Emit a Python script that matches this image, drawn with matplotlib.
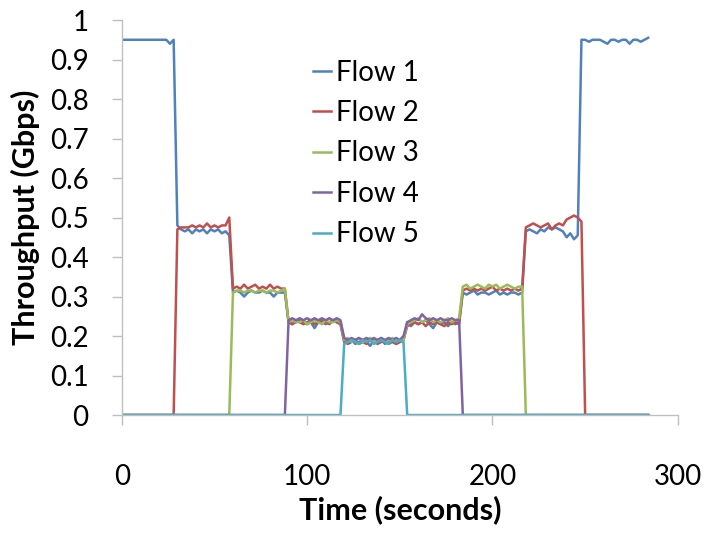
import numpy as np
import matplotlib
matplotlib.use('Agg')
from matplotlib import pyplot as plt

plt.rcParams['font.family'] = ['Lato', 'DejaVu Sans']

# time grid (seconds), one sample every 2 s
t = np.arange(0, 286, 2)

# throughput (Gbps) per phase
f1_p1 = [0.95, 0.95, 0.95, 0.95, 0.95, 0.95, 0.95, 0.95, 0.95, 0.95, 0.95, 0.95, 0.95, 0.94, 0.95]
f1_p2 = [0.48, 0.47, 0.465, 0.47, 0.46, 0.47, 0.465, 0.47, 0.46, 0.47, 0.465, 0.47, 0.46, 0.465, 0.455]
f1_p3 = [0.31, 0.315, 0.31, 0.30, 0.31, 0.315, 0.31, 0.31, 0.315, 0.31, 0.31, 0.30, 0.31, 0.31, 0.31]
f1_p4 = [0.235, 0.23, 0.235, 0.24, 0.235, 0.23, 0.235, 0.22, 0.235, 0.235, 0.23, 0.235, 0.24, 0.235, 0.23]
f1_p5 = [0.19, 0.185, 0.19, 0.18, 0.185, 0.19, 0.185, 0.175, 0.19, 0.185, 0.19, 0.18, 0.185, 0.19, 0.18, 0.185, 0.19]
f1_p6 = [0.235, 0.225, 0.235, 0.23, 0.235, 0.24, 0.23, 0.22, 0.235, 0.23, 0.235, 0.225, 0.235, 0.23, 0.235]
f1_p7 = [0.31, 0.305, 0.31, 0.315, 0.305, 0.31, 0.31, 0.305, 0.31, 0.315, 0.305, 0.31, 0.305, 0.31, 0.31, 0.305, 0.31]
f1_p8 = [0.465, 0.47, 0.465, 0.46, 0.47, 0.465, 0.475, 0.47, 0.475, 0.47, 0.465, 0.45, 0.46, 0.445, 0.455]
f1_p9 = [0.95, 0.95, 0.945, 0.95, 0.95, 0.95, 0.945, 0.94, 0.95, 0.95, 0.945, 0.95, 0.95, 0.94, 0.95, 0.95, 0.945, 0.95, 0.955]

f2_p2 = [0.47, 0.475, 0.475, 0.475, 0.48, 0.475, 0.48, 0.475, 0.485, 0.475, 0.48, 0.475, 0.48, 0.48, 0.50]
f2_p3 = [0.32, 0.325, 0.32, 0.33, 0.32, 0.325, 0.33, 0.32, 0.325, 0.32, 0.33, 0.32, 0.325, 0.32, 0.32]
f2_p4 = [0.235, 0.23, 0.24, 0.235, 0.23, 0.235, 0.24, 0.23, 0.235, 0.24, 0.235, 0.23, 0.24, 0.235, 0.23]
f2_p5 = [0.185, 0.18, 0.185, 0.19, 0.18, 0.185, 0.18, 0.19, 0.185, 0.18, 0.185, 0.19, 0.18, 0.185, 0.18, 0.185, 0.19]
f2_p6 = [0.225, 0.23, 0.235, 0.23, 0.235, 0.225, 0.235, 0.23, 0.235, 0.23, 0.225, 0.235, 0.23, 0.235, 0.23]
f2_p7 = [0.315, 0.32, 0.315, 0.32, 0.315, 0.32, 0.315, 0.32, 0.325, 0.315, 0.32, 0.315, 0.32, 0.315, 0.32, 0.315, 0.32]
f2_p8 = [0.475, 0.48, 0.485, 0.48, 0.475, 0.48, 0.485, 0.47, 0.48, 0.485, 0.48, 0.495, 0.50, 0.505, 0.50, 0.49]

f3_p3 = [0.31, 0.315, 0.315, 0.31, 0.315, 0.315, 0.31, 0.315, 0.315, 0.31, 0.315, 0.315, 0.31, 0.315, 0.32]
f3_p4 = [0.235, 0.24, 0.235, 0.235, 0.24, 0.23, 0.235, 0.24, 0.235, 0.23, 0.24, 0.235, 0.235, 0.24, 0.235]
f3_p5 = [0.19, 0.195, 0.185, 0.19, 0.195, 0.185, 0.19, 0.195, 0.185, 0.19, 0.195, 0.185, 0.19, 0.195, 0.185, 0.19, 0.19]
f3_p6 = [0.23, 0.235, 0.24, 0.245, 0.235, 0.24, 0.245, 0.235, 0.24, 0.235, 0.24, 0.245, 0.235, 0.24, 0.245]
f3_p7 = [0.325, 0.33, 0.32, 0.325, 0.33, 0.325, 0.32, 0.33, 0.325, 0.33, 0.32, 0.325, 0.33, 0.325, 0.32, 0.325, 0.325]

f4_p4 = [0.24, 0.245, 0.24, 0.245, 0.24, 0.245, 0.24, 0.245, 0.24, 0.245, 0.24, 0.245, 0.24, 0.245, 0.24]
f4_p5 = [0.195, 0.19, 0.195, 0.19, 0.195, 0.19, 0.195, 0.19, 0.195, 0.19, 0.195, 0.19, 0.195, 0.19, 0.195, 0.19, 0.2]
f4_p6 = [0.235, 0.24, 0.245, 0.24, 0.255, 0.245, 0.24, 0.245, 0.24, 0.245, 0.24, 0.24, 0.245, 0.24, 0.24]

f5_p5 = [0.18, 0.185, 0.19, 0.185, 0.18, 0.19, 0.185, 0.19, 0.18, 0.185, 0.19, 0.185, 0.18, 0.19, 0.185, 0.19, 0.185]

# start time of each flow (seconds); flow is 0 outside its active samples
starts = [0, 30, 60, 90, 120]
active = [
    f1_p1 + f1_p2 + f1_p3 + f1_p4 + f1_p5 + f1_p6 + f1_p7 + f1_p8 + f1_p9,
    f2_p2 + f2_p3 + f2_p4 + f2_p5 + f2_p6 + f2_p7 + f2_p8,
    f3_p3 + f3_p4 + f3_p5 + f3_p6 + f3_p7,
    f4_p4 + f4_p5 + f4_p6,
    f5_p5,
]
labels = ['Flow 1', 'Flow 2', 'Flow 3', 'Flow 4', 'Flow 5']
colors = ['#4F81BD', '#C0504D', '#9BBB59', '#8064A2', '#4BACC6']

fig = plt.figure(figsize=(7.12, 5.34), dpi=100)
ax = fig.add_axes([0.171, 0.2228, 0.781, 0.7397])

for s, vals, lab, c in zip(starts, active, labels, colors):
    y = np.zeros(len(t))
    i0 = s // 2
    y[i0:i0 + len(vals)] = vals
    ax.plot(t, y, color=c, lw=1.8, label=lab)

ax.set_xlim(0, 300)
ax.set_ylim(0, 1)
ax.set_xticks([0, 100, 200, 300])
ax.set_yticks(np.arange(0, 1.01, 0.1))
ax.set_yticklabels(['0', '0.1', '0.2', '0.3', '0.4', '0.5', '0.6', '0.7', '0.8', '0.9', '1'])

for side in ['top', 'right']:
    ax.spines[side].set_visible(False)
for side in ['left', 'bottom']:
    ax.spines[side].set_color('#BFBFBF')
    ax.spines[side].set_linewidth(1.0)
ax.tick_params(axis='both', direction='out', length=7, width=1.0, color='#BFBFBF',
               labelsize=20, labelcolor='black')
ax.tick_params(axis='x', pad=28)
ax.tick_params(axis='y', pad=17)

ax.set_xlabel('Time (seconds)', fontsize=22, fontweight='bold', labelpad=4)
ax.set_ylabel('Throughput (Gbps)', fontsize=22, fontweight='bold', labelpad=7)

ax.legend(loc='upper left', bbox_to_anchor=(0.3435, 0.90), frameon=False, fontsize=20,
          handlelength=0.65, handletextpad=0.2, labelspacing=0.52, borderpad=0,
          borderaxespad=0)

fig.savefig('out.png', dpi=100)
